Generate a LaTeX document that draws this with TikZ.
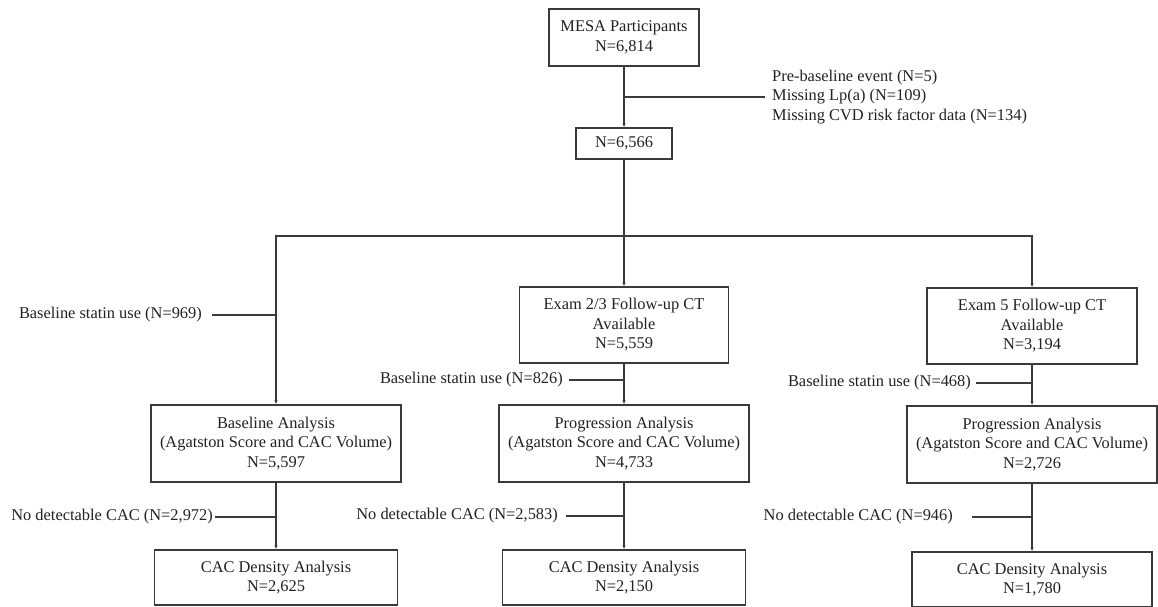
\documentclass[tikz,border=0pt]{standalone}
\usepackage{fontspec}
\setmainfont{Liberation Serif}
\usetikzlibrary{arrows.meta}
\definecolor{linec}{HTML}{3A3A3A}
\definecolor{textc}{HTML}{222222}
\begin{document}
\begin{tikzpicture}[x=1pt,y=-1pt,
  txt/.style={text=textc,font=\fontsize{16.4}{19.5}\selectfont},
  box/.style={txt,draw=linec,line width=1.5pt,fill=white,align=center,inner sep=0pt},
  lab/.style={txt,inner sep=0pt,anchor=east},
  ln/.style={draw=linec,line width=1.5pt},
  arr/.style={ln,-{Latex[length=4pt,width=3.5pt]}}]
\useasboundingbox (0,0) rectangle (1158,606);
% boxes
\node[box,minimum width=150pt,minimum height=57pt] (mesa) at (624,37.5) {MESA Participants\\N=6,814};
\node[box,minimum width=96pt,minimum height=31pt] (n6566) at (624,143.5) {N=6,566};
\node[box,minimum width=209pt,minimum height=76pt] (exam23) at (624,325) {Exam 2/3 Follow-up CT\\Available\\N=5,559};
\node[box,minimum width=210pt,minimum height=76pt] (exam5) at (1032,326) {Exam 5 Follow-up CT\\Available\\N=3,194};
\node[box,minimum width=250pt,minimum height=77pt] (base) at (276,443.5) {Baseline Analysis\\(Agatston Score and CAC Volume)\\N=5,597};
\node[box,minimum width=250pt,minimum height=77pt] (prog1) at (624,443.5) {Progression Analysis\\(Agatston Score and CAC Volume)\\N=4,733};
\node[box,minimum width=250pt,minimum height=77pt] (prog2) at (1032,444.5) {Progression Analysis\\(Agatston Score and CAC Volume)\\N=2,726};
\node[box,minimum width=243pt,minimum height=55pt] (cac1) at (276,577.5) {CAC Density Analysis\\N=2,625};
\node[box,minimum width=243pt,minimum height=55pt] (cac2) at (624,577.5) {CAC Density Analysis\\N=2,150};
\node[box,minimum width=240pt,minimum height=55pt] (cac3) at (1032,579.5) {CAC Density Analysis\\N=1,780};
% side labels
\node[txt,inner sep=0pt,anchor=west,align=left] (excl) at (772,97) {Pre-baseline event (N=5)\\Missing Lp(a) (N=109)\\Missing CVD risk factor data (N=134)};
\node[lab] (s1) at (202,315) {Baseline statin use (N=969)};
\node[lab] (s2) at (563,380) {Baseline statin use (N=826)};
\node[lab] (s3) at (971,383) {Baseline statin use (N=468)};
\node[lab] (d1) at (213,517) {No detectable CAC (N=2,972)};
\node[lab] (d2) at (558,516) {No detectable CAC (N=2,583)};
\node[lab] (d3) at (953,517) {No detectable CAC (N=946)};
% main flow
\draw[arr] (mesa.south) -- (n6566.north);
\coordinate (split) at (624,236);
\draw[arr] (n6566.south) -- (exam23.north);
\draw[arr] (split) -| (base.north);
\draw[arr] (split) -| (exam5.north);
\draw[arr] (exam23.south) -- (prog1.north);
\draw[arr] (exam5.south) -- (prog2.north);
\draw[arr] (base.south) -- (cac1.north);
\draw[arr] (prog1.south) -- (cac2.north);
\draw[arr] (prog2.south) -- (cac3.north);
% exclusion lines
\draw[ln] ([xshift=-7pt]excl.west) -- (excl.west -| mesa.south);
\draw[ln] ([xshift=10pt]s1.east) -- (s1.east -| base.north);
\draw[ln] ([xshift=6pt]s2.east) -- (s2.east -| prog1.north);
\draw[ln] ([xshift=5pt]s3.east) -- (s3.east -| prog2.north);
\draw[ln] ([xshift=2pt]d1.east) -- (d1.east -| cac1.north);
\draw[ln] ([xshift=8pt]d2.east) -- (d2.east -| cac2.north);
\draw[ln] ([xshift=19pt]d3.east) -- (d3.east -| cac3.north);
\end{tikzpicture}
\end{document}
